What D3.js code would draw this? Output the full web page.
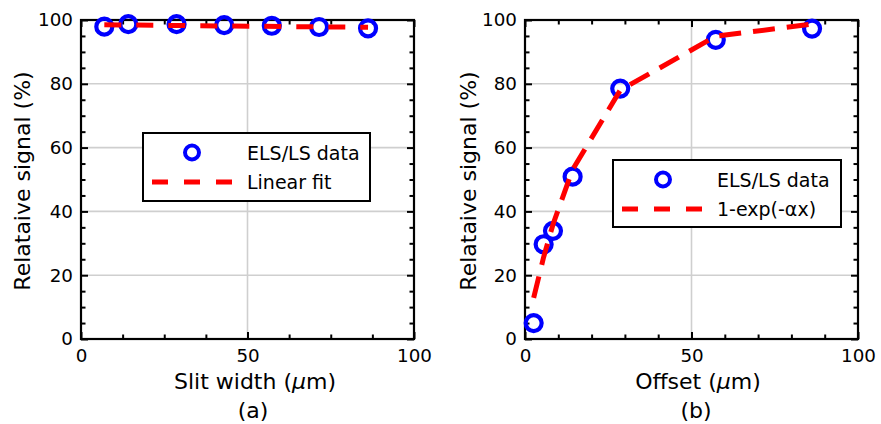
<!DOCTYPE html>
<html><head><meta charset="utf-8">
<script src="https://cdn.jsdelivr.net/npm/d3@7"></script>
<style>body{margin:0;background:#fff} text{font-family:"DejaVu Sans",sans-serif;fill:#000}</style>
</head><body>
<svg id="c" width="881" height="424"></svg>
<script>
// ---- data ----
const slitWidth = [7, 14.2, 28.7, 43, 57.3, 71.5, 86.2];
const slitSignal = [97.9, 98.7, 98.7, 98.4, 98.2, 97.8, 97.4];
const slitFitX = [7, 86.2];
const slitFitY = [98.5, 97.7];
const offsetX = [2.6, 5.6, 8.4, 14.3, 28.6, 57.3, 86.2];
const offsetSignal = [5.0, 29.7, 33.9, 50.9, 78.5, 93.8, 97.3];
const offsetFit = [12.9, 25.7, 35.9, 53.1, 78.0, 94.9, 98.7];
const xTicks = [0, 50, 100];
const yTicks = [0, 20, 40, 60, 80, 100];
const slitMinorX = [12.5, 25, 37.5, 62.5, 75, 87.5];
const offsetMinorX = [10, 20, 30, 40, 60, 70, 80, 90];
const yMinor = [5, 10, 15, 25, 30, 35, 45, 50, 55, 65, 70, 75, 85, 90, 95];
const legendLabels = [["ELS/LS data", "Linear fit"], ["ELS/LS data", "1-exp(-\u03b1x)"]];

const svg = d3.select("#c");
const Y0 = 339, Y1 = 20;
const BLUE = "#0000ff", RED = "#ff0000";

function panel(cfg) {
  const g = svg.append("g");
  const x = d3.scaleLinear([0, 100], [cfg.x0, cfg.x1]);
  const y = d3.scaleLinear([0, 100], [Y0, Y1]);
  // grid
  g.selectAll(".gx").data(xTicks.filter(v => v > 0 && v < 100)).join("line")
    .attr("x1", d => x(d)).attr("x2", d => x(d)).attr("y1", Y0).attr("y2", Y1)
    .attr("stroke", "#cfcfcf").attr("stroke-width", 1.6);
  g.selectAll(".gy").data(yTicks.filter(v => v > 0 && v < 100)).join("line")
    .attr("y1", d => y(d)).attr("y2", d => y(d)).attr("x1", cfg.x0).attr("x2", cfg.x1)
    .attr("stroke", "#cfcfcf").attr("stroke-width", 1.6);

  const style = sel => { sel.select(".domain").remove();
    sel.selectAll("line").attr("stroke", "#000").attr("stroke-width", 2);
    sel.selectAll("text").attr("font-size", 18.3).attr("font-family", "DejaVu Sans").attr("fill", "#000"); };
  // major
  g.append("g").attr("transform", `translate(0,${Y0})`)
    .call(d3.axisBottom(x).tickValues(xTicks).tickSizeInner(-7).tickSizeOuter(0).tickPadding(10)).call(style);
  g.append("g").attr("transform", `translate(0,${Y1})`)
    .call(d3.axisTop(x).tickValues(xTicks).tickSizeInner(-7).tickSizeOuter(0).tickFormat("")).call(style);
  g.append("g").attr("transform", `translate(${cfg.x0},0)`)
    .call(d3.axisLeft(y).tickValues(yTicks).tickSizeInner(-7).tickSizeOuter(0).tickPadding(8)).call(style);
  g.append("g").attr("transform", `translate(${cfg.x1},0)`)
    .call(d3.axisRight(y).tickValues(yTicks).tickSizeInner(-7).tickSizeOuter(0).tickFormat("")).call(style);
  // minor
  g.append("g").attr("transform", `translate(0,${Y0})`)
    .call(d3.axisBottom(x).tickValues(cfg.minorX).tickSizeInner(-4.5).tickSizeOuter(0).tickFormat("")).call(style);
  g.append("g").attr("transform", `translate(0,${Y1})`)
    .call(d3.axisTop(x).tickValues(cfg.minorX).tickSizeInner(-4.5).tickSizeOuter(0).tickFormat("")).call(style);
  g.append("g").attr("transform", `translate(${cfg.x0},0)`)
    .call(d3.axisLeft(y).tickValues(yMinor).tickSizeInner(-4.5).tickSizeOuter(0).tickFormat("")).call(style);
  g.append("g").attr("transform", `translate(${cfg.x1},0)`)
    .call(d3.axisRight(y).tickValues(yMinor).tickSizeInner(-4.5).tickSizeOuter(0).tickFormat("")).call(style);
  // frame
  g.append("rect").attr("x", cfg.x0).attr("y", Y1).attr("width", cfg.x1 - cfg.x0).attr("height", Y0 - Y1)
    .attr("fill", "none").attr("stroke", "#000").attr("stroke-width", 2.2);

  // data circles
  g.selectAll(".pt").data(cfg.px.map((d, i) => [d, cfg.py[i]])).join("circle")
    .attr("cx", d => x(d[0])).attr("cy", d => y(d[1])).attr("r", 8)
    .attr("fill", "none").attr("stroke", BLUE).attr("stroke-width", 4.2);
  // fit line
  g.append("path").datum(cfg.fx.map((d, i) => [d, cfg.fy[i]]))
    .attr("d", d3.line().x(d => x(d[0])).y(d => y(d[1])))
    .attr("fill", "none").attr("stroke", RED).attr("stroke-width", 5)
    .attr("stroke-dasharray", cfg.dash);

  // axis labels
  const xl = svg.append("text").attr("x", cfg.xlx).attr("y", 389).attr("text-anchor", "middle").attr("font-size", 22);
  xl.append("tspan").text(cfg.xlabel + " (");
  xl.append("tspan").attr("font-style", "italic").text("\u03bc");
  xl.append("tspan").text("m)");
  svg.append("text").attr("x", cfg.xlx - 2).attr("y", 418).attr("text-anchor", "middle").attr("font-size", 22).text(cfg.tag);
  svg.append("text").attr("transform", `translate(${cfg.ylx},181) rotate(-90)`).attr("text-anchor", "middle")
    .attr("dominant-baseline", "central").attr("font-size", 22).text("Relataive signal (%)");

  // legend
  const L = cfg.leg;
  svg.append("rect").attr("x", L.x).attr("y", L.y).attr("width", L.w).attr("height", L.h)
    .attr("fill", "#fff").attr("stroke", "#000").attr("stroke-width", 2);
  svg.append("circle").attr("cx", L.mx).attr("cy", L.y + 19.5).attr("r", 7)
    .attr("fill", "none").attr("stroke", BLUE).attr("stroke-width", 4);
  svg.append("line").attr("x1", L.lx0).attr("x2", L.lx1).attr("y1", L.y + 49).attr("y2", L.y + 49)
    .attr("stroke", RED).attr("stroke-width", 5).attr("stroke-dasharray", "16,16");
  cfg.labels.forEach((t, i) => svg.append("text").attr("x", L.tx).attr("y", L.y + 19.5 + i * 29.5)
    .attr("dominant-baseline", "central").attr("font-size", 19).text(t));
}

panel({x0: 81, x1: 414, minorX: slitMinorX, px: slitWidth, py: slitSignal, fx: slitFitX, fy: slitFitY,
  dash: "17,15", xlabel: "Slit width", tag: "(a)", xlx: 255, ylx: 22, labels: legendLabels[0],
  leg: {x: 143, y: 133, w: 227, h: 68, mx: 192, lx0: 152, lx1: 232, tx: 247}});
panel({x0: 525, x1: 858, minorX: offsetMinorX, px: offsetX, py: offsetSignal, fx: offsetX, fy: offsetFit,
  dash: "22,12", xlabel: "Offset", tag: "(b)", xlx: 698, ylx: 468, labels: legendLabels[1],
  leg: {x: 613, y: 160, w: 228, h: 67, mx: 663, lx0: 622, lx1: 703, tx: 717}});
</script>
</body></html>
